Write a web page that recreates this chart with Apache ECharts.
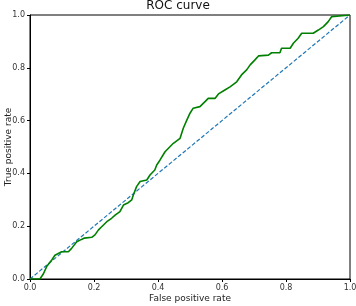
<!DOCTYPE html>
<html>
<head>
<meta charset="utf-8">
<script src="https://cdn.jsdelivr.net/npm/echarts@6/dist/echarts.min.js"></script>
<style>
html,body{margin:0;padding:0;background:#fff;}
#chart{width:356px;height:306px;}
</style>
</head>
<body>
<div id="chart"></div>
<script>
// ROC curve points
var fpr = [0, 0.031, 0.042, 0.052, 0.068, 0.078, 0.099, 0.12, 0.13, 0.146, 0.161, 0.17, 0.193, 0.203, 0.214,
	0.224, 0.24, 0.255, 0.266, 0.281, 0.292, 0.307, 0.318, 0.323, 0.333, 0.344, 0.365, 0.375, 0.39, 0.396,
	0.406, 0.422, 0.448, 0.469, 0.479, 0.49, 0.5, 0.51, 0.531, 0.547, 0.557, 0.578, 0.589, 0.609, 0.625,
	0.646, 0.661, 0.677, 0.688, 0.703, 0.714, 0.745, 0.755, 0.781, 0.786, 0.813, 0.823, 0.838, 0.849,
	0.885, 0.901, 0.917, 0.932, 0.943, 0.948, 1.0];
var tpr = [0, 0, 0.02, 0.047, 0.072, 0.09, 0.103, 0.103, 0.116, 0.141, 0.15, 0.155, 0.158, 0.167, 0.186,
	0.198, 0.217, 0.23, 0.242, 0.255, 0.28, 0.289, 0.3, 0.318, 0.35, 0.369, 0.375, 0.394, 0.413, 0.432,
	0.45, 0.482, 0.514, 0.533, 0.571, 0.602, 0.628, 0.647, 0.653, 0.672, 0.684, 0.684, 0.701, 0.716, 0.728,
	0.747, 0.773, 0.792, 0.811, 0.83, 0.845, 0.848, 0.857, 0.857, 0.874, 0.874, 0.893, 0.912, 0.931,
	0.931, 0.943, 0.956, 0.975, 0.994, 1.0, 1.0];
var diagX = [0, 1];
var diagY = [0, 1];
var tickFmt = function(v){ return v.toFixed(1); };

var myChart = echarts.init(document.getElementById('chart'));
var rocData = [];
for (var i = 0; i < fpr.length; i++) {
	rocData.push([fpr[i], tpr[i]]);
}
var diagData = [];
for (var j = 0; j < diagX.length; j++) {
	diagData.push([diagX[j], diagY[j]]);
}
var axisCommon = {
	type: 'value',
	min: 0,
	max: 1,
	interval: 0.2,
	splitLine: {show: false},
	axisLine: {show: true, lineStyle: {color: '#000', width: 1}},
	axisTick: {show: true, length: 3, lineStyle: {color: '#000'}},
	axisLabel: {formatter: tickFmt, fontSize: 8, color: '#333', fontFamily: 'DejaVu Sans', margin: 5},
	nameLocation: 'middle',
	nameMoveOverlap: false,
	nameTextStyle: {fontSize: 9, color: '#222', fontFamily: 'DejaVu Sans'}
};
var option = {
	animation: false,
	title: {
		text: 'ROC curve',
		left: 'center',
		top: 0,
		padding: 0,
		textStyle: {fontSize: 12, fontWeight: 'normal', color: '#111', fontFamily: 'DejaVu Sans'}
	},
	grid: {left: 30, right: 6, top: 15, bottom: 27, containLabel: false, outerBoundsMode: 'none',
		show: true, borderColor: '#000', borderWidth: 1},
	xAxis: Object.assign({}, axisCommon, {name: 'False positive rate', nameGap: 15}),
	yAxis: Object.assign({}, axisCommon, {name: 'True positive rate', nameGap: 17}),
	series: [
		{
			type: 'line',
			data: diagData,
			symbol: 'none',
			lineStyle: {color: '#1f77b4', width: 1.2, type: [4, 2]}
		},
		{
			type: 'line',
			data: rocData,
			symbol: 'none',
			lineStyle: {color: '#008000', width: 1.6}
		}
	]
};
myChart.setOption(option);
</script>
</body>
</html>
